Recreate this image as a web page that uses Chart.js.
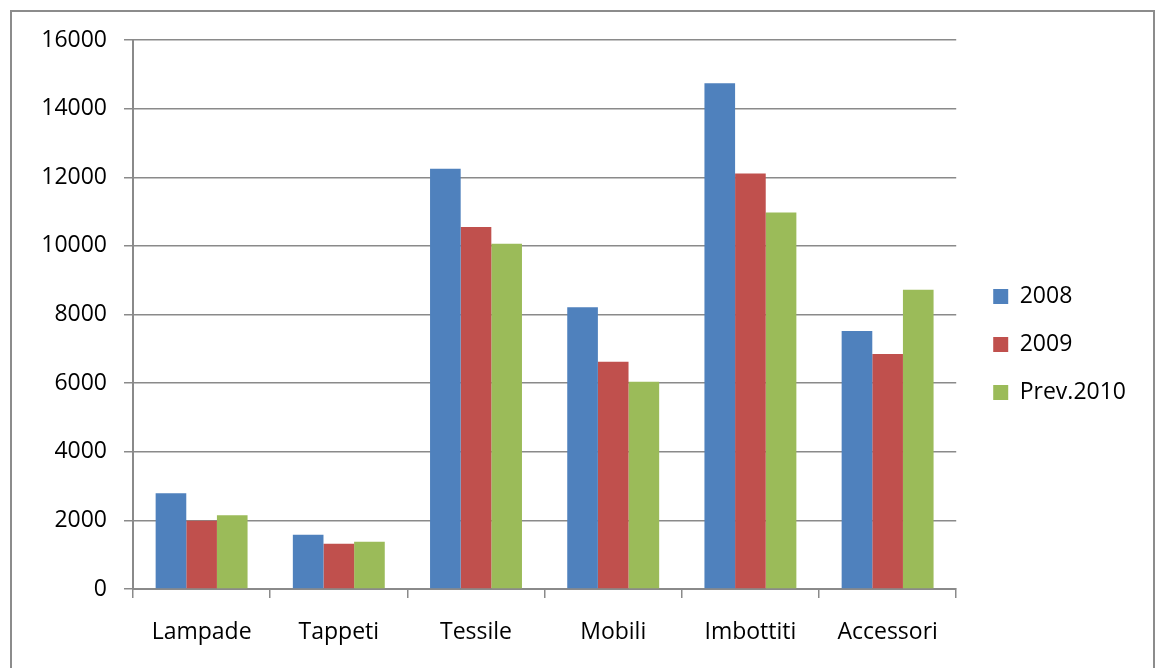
<!DOCTYPE html>
<html>
<head>
<meta charset="utf-8">
<script src="https://cdn.jsdelivr.net/npm/chart.js@4.4.1/dist/chart.umd.min.js"></script>
<style>
  html, body { margin: 0; padding: 0; background: #fff; }
  #frame { position: absolute; left: 10px; top: 10px; width: 1145px; height: 700px; border: 2px solid #8c8c8c; box-sizing: border-box; }
  #myChart { position: absolute; left: 0; top: 0; }
</style>
</head>
<body>
<div id="frame"></div>
<canvas id="myChart" width="1156" height="668"></canvas>
<script>
const categories = ['Lampade', 'Tappeti', 'Tessile', 'Mobili', 'Imbottiti', 'Accessori'];
const values2008 = [2790, 1580, 12250, 8210, 14740, 7520];
const values2009 = [1990, 1320, 10550, 6620, 12110, 6850];
const valuesPrev2010 = [2150, 1380, 10060, 6040, 10970, 8720];
const yTicks = [0, 2000, 4000, 6000, 8000, 10000, 12000, 14000, 16000];

const gridColor = '#8a8a8a';
const fontFamily = '"Open Sans", sans-serif';

const ctx = document.getElementById('myChart').getContext('2d');

new Chart(ctx, {
    type: 'bar',
    data: {
        labels: categories,
        datasets: [
            { label: '2008', data: values2008, backgroundColor: '#4F81BD' },
            { label: '2009', data: values2009, backgroundColor: '#C0504D' },
            { label: 'Prev.2010', data: valuesPrev2010, backgroundColor: '#9BBB59' },
        ],
    },
    options: {
        responsive: false,
        animation: false,
        categoryPercentage: 0.67,
        barPercentage: 1.0,
        layout: { padding: { left: 12, top: 40, right: 20, bottom: 19 } },
        plugins: {
            legend: {
                position: 'right',
                labels: {
                    boxWidth: 15,
                    boxHeight: 15,
                    padding: 25,
                    color: '#000',
                    font: { family: fontFamily, size: 23 },
                },
            },
            tooltip: { enabled: false },
        },
        scales: {
            x: {
                offset: true,
                grid: {
                    offset: true,
                    drawOnChartArea: false,
                    drawTicks: true,
                    tickLength: 9,
                    color: gridColor,
                    lineWidth: 1.5,
                },
                border: { color: gridColor, width: 2 },
                ticks: { color: '#000', padding: 21, font: { family: fontFamily, size: 23 } },
                afterFit: (scale) => { scale.height = 60; },
            },
            y: {
                min: 0,
                max: 16000,
                afterBuildTicks: (scale) => { scale.ticks = yTicks.map(v => ({ value: v })); },
                grid: { color: gridColor, lineWidth: 1.5, tickLength: 9 },
                border: { color: gridColor, width: 2 },
                ticks: {
                    color: '#000',
                    padding: 17,
                    font: { family: fontFamily, size: 23 },
                    callback: (value) => String(value),
                },
                afterFit: (scale) => { scale.width = 121; },
            },
            gap: {
                position: 'right',
                display: true,
                grid: { display: false },
                border: { display: false },
                ticks: { display: false },
                afterFit: (scale) => { scale.width = 12; },
            },
        },
    },
});
</script>
</body>
</html>
